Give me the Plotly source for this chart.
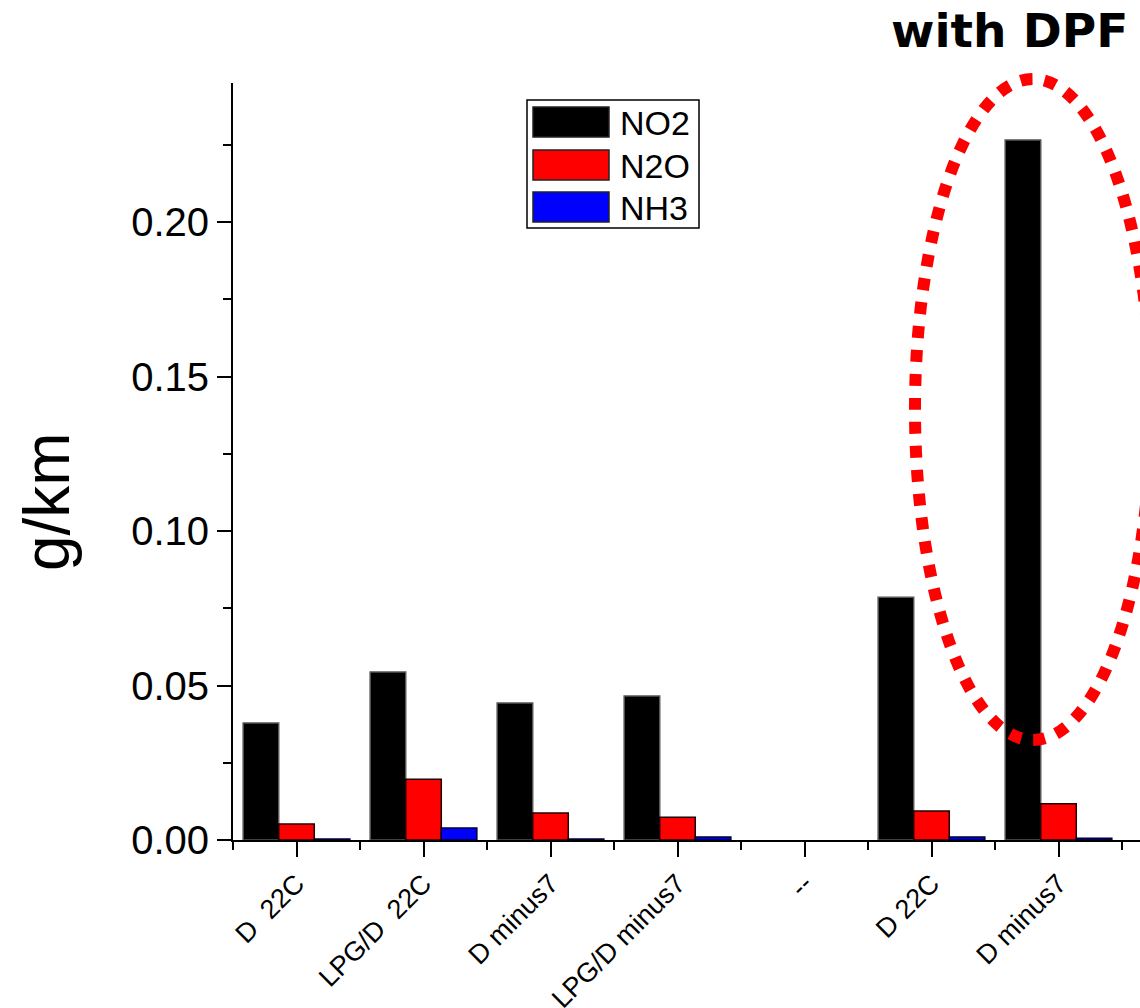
import plotly.graph_objects as go

# Emission factors per test condition (g/km)
categories = ["D  22C", "LPG/D  22C", "D minus7", "LPG/D minus7", "--", "D 22C", "D minus7"]
no2 = [0.0379, 0.0544, 0.0443, 0.0466, 0.0, 0.0786, 0.2265]
n2o = [0.0052, 0.0197, 0.0087, 0.0074, 0.0, 0.0094, 0.0117]
nh3 = [0.0003, 0.0039, 0.0003, 0.0010, 0.0, 0.0010, 0.0006]

series_names = ["NO2", "N2O", "NH3"]
series_values = [no2, n2o, nh3]
series_colors = ["#000000", "#ff0000", "#0000ff"]
series_edges = ["#555555", "#200000", "#000030"]

y_ticks = [0.0, 0.05, 0.10, 0.15, 0.20]

W, H = 1140, 1008
ML, MR, MT, MB = 233, 0, 83, 168
PW, PH = W - ML - MR, H - MT - MB
CAT_PX = 127.0      # pixels per category slot
VAL_PX = 3090.0     # pixels per g/km


def px(xp):
    return (xp - ML) / PW


def py(yp):
    return (H - MB - yp) / PH


x_idx = list(range(len(categories)))

fig = go.Figure()
for name, vals, col, edge in zip(series_names, series_values, series_colors, series_edges):
    fig.add_trace(go.Bar(
        x=x_idx, y=vals, name=name,
        marker=dict(color=col,
                    line=dict(color=edge, width=[1.5 if v > 0 else 0 for v in vals])),
        showlegend=False,
    ))

fig.update_layout(
    width=W, height=H,
    margin=dict(l=ML, r=MR, t=MT, b=MB, autoexpand=False),
    paper_bgcolor="white", plot_bgcolor="white",
    barmode="group", bargap=0.16, bargroupgap=0.0,
    font=dict(family="Liberation Sans, Arial, sans-serif", color="black"),
)

fig.update_xaxes(
    automargin=False,
    range=[-0.5, -0.5 + PW / CAT_PX],
    tickmode="array", tickvals=x_idx, ticktext=categories,
    tickangle=-45, tickfont=dict(size=27),
    showline=True, linecolor="black", linewidth=2,
    ticks="outside", ticklen=15, tickwidth=2, tickcolor="black",
    minor=dict(tickmode="array", tickvals=[i - 0.5 for i in range(len(categories) + 1)],
               ticks="outside", ticklen=8, tickwidth=2, tickcolor="black"),
    showgrid=False, zeroline=False,
)

fig.update_yaxes(
    automargin=False,
    range=[0, PH / VAL_PX],
    tickmode="array", tickvals=y_ticks, ticktext=[f"{v:.2f}" for v in y_ticks],
    tickfont=dict(size=40),
    showline=True, linecolor="black", linewidth=2,
    ticks="outside", ticklen=14, tickwidth=2, tickcolor="black",
    minor=dict(tickmode="array", tickvals=[0.025, 0.075, 0.125, 0.175, 0.225],
               ticks="outside", ticklen=8, tickwidth=2, tickcolor="black"),
    showgrid=False, zeroline=False,
)

shapes = []
annotations = []

# Legend box with wide swatches
shapes.append(dict(type="rect", xref="paper", yref="paper",
                   x0=px(527), x1=px(699), y0=py(228), y1=py(100),
                   line=dict(color="black", width=1.5), fillcolor="white", layer="above"))
row_tops = [107, 150, 192]
for name, col, top in zip(series_names, series_colors, row_tops):
    shapes.append(dict(type="rect", xref="paper", yref="paper",
                       x0=px(533), x1=px(609), y0=py(top + 30), y1=py(top),
                       line=dict(color="#222222", width=1.5), fillcolor=col, layer="above"))
    annotations.append(dict(text=name, xref="paper", yref="paper",
                            x=px(618), y=py(top + 16), xanchor="left", yanchor="middle",
                            showarrow=False, font=dict(size=34, color="black")))

# Dotted ellipse around the DPF group
shapes.append(dict(type="circle", xref="paper", yref="paper",
                   x0=px(915), x1=px(1151), y0=py(740), y1=py(79),
                   line=dict(color="#ff0000", width=12, dash="dot"), layer="above"))

# Axis title
annotations.append(dict(text="g/km", xref="paper", yref="paper",
                        x=px(47), y=py(502), textangle=-90,
                        xanchor="center", yanchor="middle", showarrow=False,
                        font=dict(size=64, color="black")))

# Group label
annotations.append(dict(text="<b>with DPF</b>", xref="paper", yref="paper",
                        x=px(1009), y=py(30), xanchor="center", yanchor="middle",
                        showarrow=False,
                        font=dict(family="DejaVu Sans, Verdana, sans-serif", size=47, color="black")))

fig.update_layout(shapes=shapes, annotations=annotations)

fig.write_html("out.html")
